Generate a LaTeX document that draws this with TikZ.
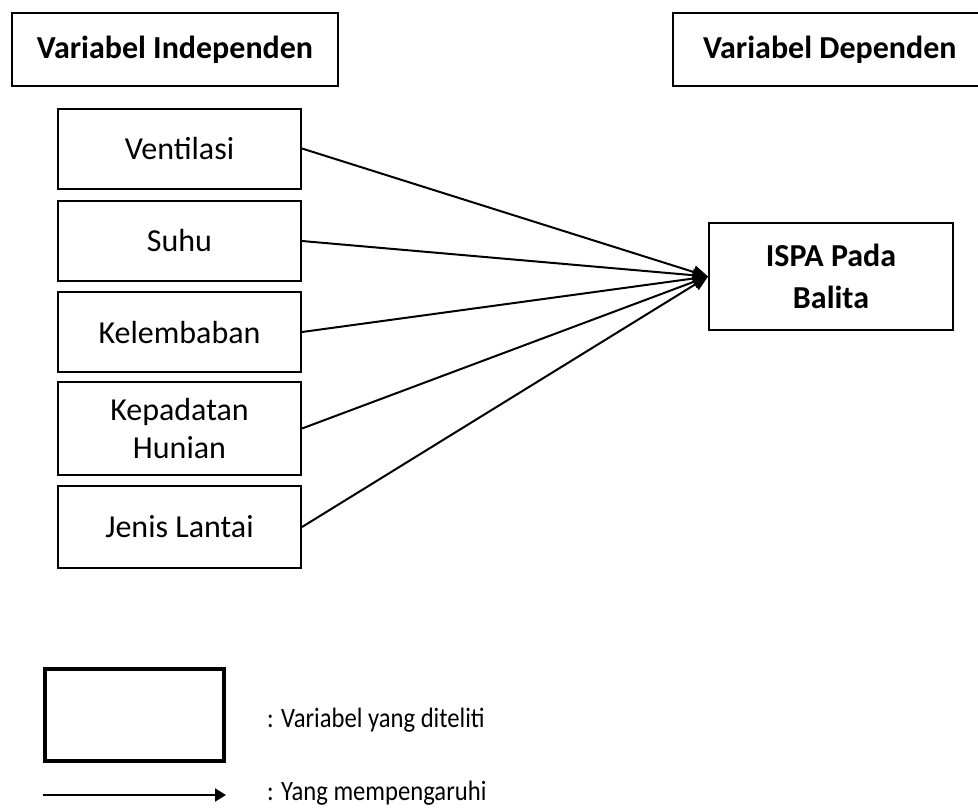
\documentclass[tikz,border=0pt]{standalone}
\usepackage{fontspec}
\setmainfont{Carlito}
\usetikzlibrary{arrows.meta}

\begin{document}
\begin{tikzpicture}[x=1pt,y=-1pt,
  varbox/.style={draw,line width=2pt,minimum width=243pt,minimum height=80pt,
    align=center,font=\fontsize{32}{38}\selectfont},
  headbox/.style={draw,line width=2pt,minimum width=326pt,minimum height=73pt,
    font=\fontsize{32}{38}\selectfont\bfseries},
  legtext/.style={anchor=west,inner xsep=0pt,font=\fontsize{28}{34}\selectfont},
  infl/.style={line width=2pt,-{Triangle[length=15pt,width=13pt]}}]
\useasboundingbox (0,0) rectangle (978,807);
% kolom judul
\node[headbox] (indep) at (175,49.5) {Variabel Independen};
\node[headbox,minimum width=0pt,anchor=west,inner xsep=30pt] (dep) at (672,49.5)
  {\makebox[290pt][l]{Variabel Dependen}};
% variabel independen
\node[varbox] (vent) at (179.5,148.5) {Ventilasi};
\node[varbox] (suhu) at (179.5,241) {Suhu};
\node[varbox] (lembab) at (179.5,332) {Kelembaban};
\node[varbox,minimum height=93pt] (padat) at (179.5,428.5) {Kepadatan\\Hunian};
\node[varbox,minimum height=82pt] (lantai) at (179.5,527) {Jenis Lantai};
% variabel dependen
\node[varbox,font=\fontsize{32}{42}\selectfont\bfseries,minimum width=244pt,
  minimum height=107pt] (ispa) at (831,276.5) {ISPA Pada\\Balita};
\foreach \v in {vent,suhu,lembab,padat,lantai}
  \draw[infl] (\v.east) -- (ispa.west);
% keterangan
\node[draw,line width=4pt,minimum width=179pt,minimum height=92pt] (legbox) at (134.5,715) {};
\node[legtext] (legvar) at (267,720) {\scalebox{0.88}[1]{: Variabel yang diteliti}};
\coordinate (legfrom) at (43,795);
\coordinate (legto) at (226,795);
\draw[line width=2pt,-{Triangle[length=11pt,width=13pt]}] (legfrom) -- (legto);
\node[legtext] (legarr) at (267,793) {\scalebox{0.88}[1]{: Yang mempengaruhi}};
\end{tikzpicture}
\end{document}
